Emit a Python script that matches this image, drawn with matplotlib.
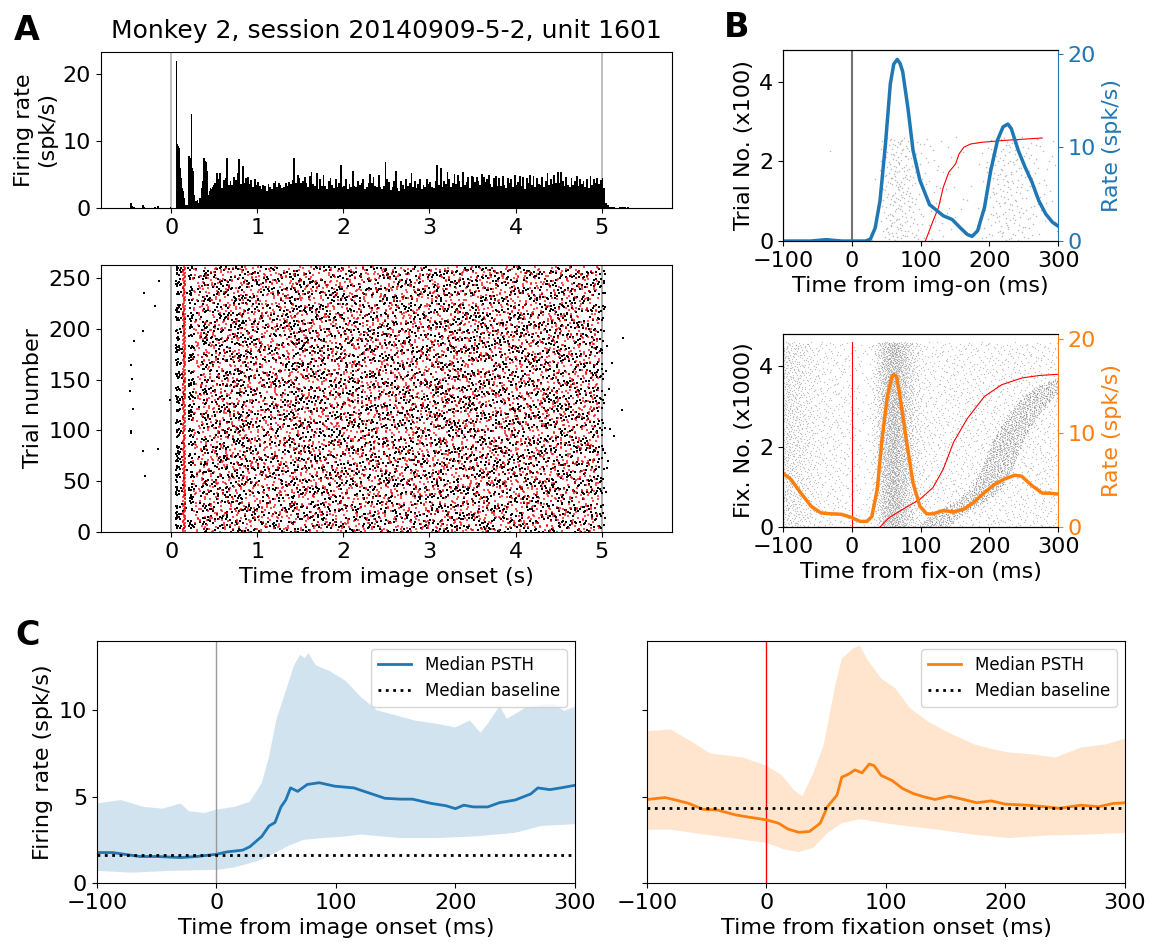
import numpy as np
import matplotlib.pyplot as plt

plt.rcParams['font.family'] = 'DejaVu Sans'
plt.rcParams['font.size'] = 16

BLUE = '#1f77b4'
ORANGE = '#ff7f0e'

# ---------------- A: PSTH (spk/s) ----------------
pre_rate = [0, 0, 0, 0, 0, 0, 0.7, 0.3, 0.2, 0, 0, 0, 0, 0.5, 0.2,
            0, 0, 0, 0, 0, 0.2, 0, 0.3, 0, 0, 0, 0, 0, 0, 0.2]          # -0.6..0 s, 20 ms
early_rate = [0, 0, 0, 0, 0, 7.5, 22, 9.5, 9.3, 9.0,
              6.0, 4.5, 3.6, 3.0, 2.5, 1.5, 0.5, 0.5, 0.5, 0.5,
              7.7, 7.8, 7.5, 14.0, 6.0, 5.5, 3.0, 2.0, 1.0, 1.0,
              1.2, 0.8, 1.5, 1.5, 2.5, 3.0, 4.0, 7.5, 7.5, 7.0,
              6.8, 5.5, 5.5, 2.0, 2.5, 3.0, 2.8, 3.2, 3.5, 3.5]             # 0..0.5 s, 10 ms
late_rate = [
    3.8, 5.2, 4.3, 5.2, 3.0, 4.2, 4.5, 7.4, 3.5, 4.0, 3.4, 4.6, 4.2, 5.2, 7.3, 3.6, 6.2, 3.8, 4.5, 4.7, 3.6, 4.2, 3.2, 4.3, 3.4,
    3.9, 3.3, 2.8, 3.5, 3.3, 2.6, 3.6, 3.1, 2.9, 3.8, 4.0, 3.2, 3.7, 3.5, 3.0, 3.2, 3.8, 3.3, 3.9, 3.6, 4.2, 7.5, 3.8, 4.9, 4.5,
    3.7, 4.1, 4.6, 3.8, 3.2, 4.8, 5.3, 3.6, 3.3, 5.2, 2.8, 4.4, 3.3, 5.0, 3.3, 2.8, 4.0, 4.5, 3.5, 3.0, 4.3, 3.2, 3.7, 6.4, 3.1,
    3.3, 4.3, 2.9, 3.6, 3.2, 5.5, 3.3, 3.1, 4.0, 3.5, 3.8, 4.4, 2.9, 3.2, 3.8, 5.1, 3.7, 4.7, 3.3, 3.2, 4.9, 3.1, 2.8, 3.3, 6.8,
    4.3, 3.9, 2.7, 3.2, 4.0, 5.5, 3.0, 2.6, 4.1, 3.5, 2.8, 4.4, 3.3, 3.7, 5.2, 3.2, 4.0, 3.0, 3.6, 4.3, 2.8, 3.5, 3.1, 4.4, 3.6,
    3.9, 3.2, 3.0, 4.1, 6.4, 3.4, 5.9, 3.1, 4.0, 3.6, 5.4, 4.3, 3.2, 3.8, 5.1, 3.6, 5.0, 4.1, 3.2, 5.3, 3.4, 3.9, 4.6, 3.0, 4.8,
    4.7, 3.9, 4.6, 4.1, 3.5, 5.1, 4.6, 3.9, 4.3, 5.0, 3.6, 3.1, 4.5, 4.8, 3.3, 4.5, 3.3, 4.8, 3.5, 3.0, 4.5, 3.8, 4.3, 3.1, 4.9,
    3.4, 3.9, 4.8, 3.3, 4.7, 2.9, 4.5, 3.8, 5.0, 3.4, 4.8, 3.2, 4.5, 3.6, 3.4, 4.7, 3.1, 4.0, 5.2, 3.4, 4.3, 3.6, 4.9, 3.8, 5.4,
    3.8, 5.3, 4.1, 3.3, 4.6, 3.5, 3.1, 4.5, 3.4, 4.1, 4.8, 3.3, 4.3, 3.6, 4.0, 3.2, 4.3, 3.0, 4.8, 3.5, 4.4, 3.7, 4.5, 3.6, 4.2]  # 0.5..5 s, 20 ms
post_rate = [4.5, 3.0, 0.8, 0.5, 0.2, 0.2, 0.1, 0.1, 0, 0, 0.1, 0.2, 0.2, 0.1, 0,
             0.1, 0, 0, 0, 0, 0, 0, 0, 0, 0, 0, 0, 0, 0, 0]              # 5..5.6 s, 20 ms
n_trials = 262
first_fix_t = 0.15          # first fixation onset (s), the red column
later_fix_per_trial = 19

# ---------------- B: single-unit curves ----------------
img_t = [-100, -60, -45, -37, -30, -15, 0, 20, 27, 34, 41, 49, 56, 61, 66, 70, 74, 82, 89, 99,
         113, 133, 146, 158, 168, 175, 183, 193, 202, 212, 220, 227, 232, 242, 252, 262, 272, 282, 292, 300]
img_rate = [0, 0, 0.1, 0.15, 0.1, 0, 0, 0, 0.2, 1.4, 4.3, 10.4, 16.8, 18.9, 19.4, 19.0, 18.1, 14.0, 9.7, 6.5,
            3.9, 2.7, 2.3, 1.4, 0.7, 0.5, 1.1, 3.6, 7.5, 10.8, 12.2, 12.5, 12.0, 9.7, 7.9, 6.3, 4.3, 2.9, 2.0, 1.6]
img_fix_t = [107, 118, 126, 133, 141, 151, 156, 163, 173, 188, 222, 277]
img_fix_n = [0, 0.5, 0.84, 1.35, 1.73, 1.94, 2.19, 2.36, 2.44, 2.48, 2.53, 2.59]

fix_t = [-100, -89, -74, -59, -45, -30, -15, 0, 12, 22, 29, 37, 44, 52, 58, 61, 65, 69, 79, 89,
         99, 109, 118, 133, 148, 163, 177, 192, 207, 222, 237, 247, 262, 277, 287, 300]
fix_rate = [5.7, 5.1, 3.6, 2.2, 1.5, 1.4, 1.35, 1.0, 0.6, 0.6, 1.1, 4.0, 9.4, 14.0, 15.9, 16.2, 16.0, 14.4, 9.4, 4.7,
            2.2, 1.4, 1.4, 1.75, 1.6, 1.9, 2.6, 3.6, 4.5, 5.1, 5.5, 5.4, 4.4, 3.6, 3.6, 3.5]
next_fix_t = [41, 54, 74, 99, 118, 133, 148, 168, 193, 218, 248, 273, 300]
next_fix_n = [0, 0.23, 0.44, 0.69, 0.98, 1.44, 2.11, 2.7, 3.25, 3.54, 3.71, 3.77, 3.8]
n_fix = 4600
fix_bg_rate = 1.5

# ---------------- C: population ----------------
c_img_med_t = [-100, -87, -64, -49, -30, -17, 0, 9, 22, 28, 38, 44, 49, 54, 58, 62, 68, 76, 86, 99,
               115, 128, 141, 154, 164, 180, 192, 200, 207, 215, 227, 237, 250, 263, 269, 279, 288, 300]
c_img_med = [1.76, 1.76, 1.53, 1.53, 1.47, 1.53, 1.66, 1.8, 1.9, 2.1, 2.7, 3.3, 3.5, 4.4, 4.8, 5.5, 5.3, 5.7, 5.8, 5.6,
             5.5, 5.2, 4.9, 4.85, 4.85, 4.6, 4.47, 4.3, 4.5, 4.4, 4.4, 4.65, 4.8, 5.15, 5.5, 5.4, 5.5, 5.65]
c_img_hi_t = [-100, -80, -61, -45, -30, -23, -10, 0, 15, 28, 38, 44, 50, 57, 65, 70, 74, 77, 83, 95,
              108, 121, 134, 150, 166, 185, 200, 212, 221, 227, 237, 243, 259, 272, 282, 291, 300]
c_img_hi = [4.6, 4.8, 4.4, 4.3, 4.6, 4.15, 4.05, 4.25, 4.4, 4.7, 5.8, 7.3, 9.4, 10.9, 12.6, 13.2, 13.0, 13.3, 12.6, 12.25,
            11.7, 10.75, 10.0, 9.7, 9.4, 9.2, 9.0, 9.4, 8.7, 9.2, 10.25, 9.5, 10.15, 10.3, 10.4, 9.95, 10.2]
c_img_lo_t = [-100, -71, -39, 0, 15, 35, 47, 60, 73, 89, 105, 121, 137, 154, 185, 218, 250, 272, 300]
c_img_lo = [0.7, 0.6, 0.7, 0.76, 0.9, 1.28, 1.66, 2.14, 2.5, 2.6, 2.67, 2.8, 2.7, 2.6, 2.6, 2.7, 2.9, 3.3, 3.4]
c_img_base = 1.6

c_fix_med_t = [-100, -85, -76, -65, -53, -41, -26, -14, 0, 10, 18, 27, 36, 45, 51, 59, 63, 69, 74, 80,
               86, 90, 96, 105, 114, 123, 132, 141, 153, 165, 176, 188, 200, 218, 233, 245, 263, 278, 290, 300]
c_fix_med = [4.83, 4.94, 4.8, 4.6, 4.26, 4.22, 3.94, 3.8, 3.65, 3.46, 3.12, 2.93, 2.98, 3.46, 4.41, 5.08, 6.12, 6.31, 6.54, 6.37,
             6.88, 6.79, 6.22, 5.93, 5.46, 5.17, 4.98, 4.83, 5.02, 4.83, 4.64, 4.75, 4.56, 4.5, 4.41, 4.32, 4.5, 4.41, 4.6, 4.64]
c_fix_hi_t = [-100, -80, -59, -47, -20, 0, 13, 23, 30, 39, 48, 57, 63, 72, 78, 84, 96, 108, 120, 135,
              150, 174, 189, 203, 221, 242, 263, 284, 300]
c_fix_hi = [8.78, 8.88, 8.02, 7.49, 7.26, 6.79, 6.22, 5.36, 5.02, 6.31, 8.02, 11.25, 12.97, 13.54, 13.76, 12.97, 11.83, 11.25, 10.11, 9.35,
            8.78, 8.02, 7.74, 7.55, 7.45, 7.26, 7.83, 8.02, 8.35]
c_fix_lo_t = [-100, -80, -50, -20, 0, 15, 27, 39, 51, 63, 78, 99, 120, 144, 174, 203, 233, 263, 300]
c_fix_lo = [3.08, 3.08, 2.79, 2.51, 2.32, 1.94, 1.79, 2.03, 2.89, 3.46, 3.69, 3.46, 3.27, 3.08, 2.79, 2.6, 2.74, 2.79, 2.89]
c_fix_base = 4.35


# single spikes can't be read off the rasters, so dots are laid out with
# deterministic van der Corput sequences to follow the densities read above
def vdc(idx, base):
    i = np.asarray(idx).copy()
    out = np.zeros(len(i))
    f = 1.0
    while i.any():
        f /= base
        out += f * (i % base)
        i = i // base
    return out


def halton(n, base, start=1, leap=409):
    return vdc(start + leap * np.arange(n), base)


def sample_steps(u, edges, rates):
    cum = np.concatenate([[0], np.cumsum(np.asarray(rates) * np.diff(edges))])
    return np.interp(u * cum[-1], cum, edges), cum[-1]


def sample_linear(u, x, d):
    x = np.asarray(x, float)
    d = np.asarray(d, float)
    cum = np.concatenate([[0], np.cumsum(0.5 * (d[1:] + d[:-1]) * np.diff(x))])
    return np.interp(u * cum[-1], cum, x), cum[-1]


fig = plt.figure(figsize=(11.57, 9.52), dpi=100)

ax_h = fig.add_axes([0.087, 0.7815, 0.494, 0.164])
ax_r = fig.add_axes([0.087, 0.4412, 0.494, 0.2805])
ax_b1 = fig.add_axes([0.6768, 0.7468, 0.2377, 0.2006])
ax_b2 = fig.add_axes([0.6768, 0.4464, 0.2377, 0.2027])
ax_c1 = fig.add_axes([0.0838, 0.0725, 0.4131, 0.2542])
ax_c2 = fig.add_axes([0.5592, 0.0725, 0.4131, 0.2542], sharey=ax_c1)

# ---- A top: histogram
edges = np.concatenate([-0.6 + 0.02 * np.arange(31),
                        0.01 * np.arange(1, 51),
                        0.5 + 0.02 * np.arange(1, len(late_rate) + 1),
                        5.0 + 0.02 * np.arange(1, len(post_rate) + 1)])
rates = np.array(pre_rate + early_rate + late_rate + post_rate, float)
ax_h.stairs(rates, edges, fill=True, color='k')
for x in (0, 5):
    ax_h.axvline(x, color='0.7', lw=1.2, zorder=0)
ax_h.set_xlim(-0.82, 5.82)
ax_h.set_ylim(0, 23.3)
ax_h.set_yticks([0, 10, 20])
ax_h.set_xticks(range(6))
ax_h.set_ylabel('Firing rate\n(spk/s)')
ax_h.set_title('Monkey 2, session 20140909-5-2, unit 1601', fontsize=18, pad=10)

# ---- A bottom: raster; trial index taken from a shuffled index so rows
# don't line up with the time sequence
per_trial = np.sum(rates * np.diff(edges))
n_sp = int(per_trial * n_trials)
k = np.arange(n_sp)
sp_t, _ = sample_steps(vdc(k + 50, 3), edges, rates)
sp_y = np.floor(vdc((k * 7919 + 13) % n_sp + 1, 2) * n_trials)
ax_r.scatter(sp_t, sp_y, s=2.4, marker='s', c='k', linewidths=0)

ff_y = np.arange(n_trials)
ff_t = first_fix_t + 0.03 * (vdc((ff_y * 97) % n_trials + 1, 5) - 0.5)
n_lf = n_trials * later_fix_per_trial
k = np.arange(n_lf)
lf_t = 0.25 + 4.72 * vdc(k + 100, 2)
lf_y = np.floor(vdc((k * 7919 + 2001) % n_lf + 1, 3) * n_trials)
ax_r.scatter(np.concatenate([ff_t, lf_t]), np.concatenate([ff_y, lf_y]),
             s=2.5, marker='s', c='red', alpha=0.7, linewidths=0)
for x in (0, 5):
    ax_r.axvline(x, color='0.6', lw=1.2, zorder=0)
ax_r.set_xlim(-0.82, 5.82)
ax_r.set_ylim(0, 263)
ax_r.set_yticks(range(0, 251, 50))
ax_r.set_xticks(range(6))
ax_r.set_ylabel('Trial number')
ax_r.set_xlabel('Time from image onset (s)')

# ---- B top
u = halton(4000, 3, 20)
bt, tot = sample_linear(u, img_t, img_rate)
n_b = int(tot / 1000 * n_trials)
bt = bt[:n_b]
by = halton(n_b, 2, 20) * n_trials / 100
ax_b1.scatter(bt, by, s=1.2, c='0.35', alpha=0.4, linewidths=0)
ax_b1.plot(img_fix_t, img_fix_n, color='red', lw=0.8)
ax_b1.axvline(0, color='0.45', lw=1.5)
ax_b1.set_xlim(-100, 300)
ax_b1.set_ylim(0, 4.8)
ax_b1.set_yticks([0, 2, 4])
ax_b1.set_xticks([-100, 0, 100, 200, 300])
ax_b1.set_ylabel('Trial No. (x100)')
ax_b1.set_xlabel('Time from img-on (ms)')
ax_b1.spines['right'].set_visible(False)
tw1 = ax_b1.twinx()
tw1.plot(img_t, img_rate, color=BLUE, lw=2.5)
tw1.set_ylim(0, 20.4)
tw1.set_yticks([0, 10, 20])
tw1.tick_params(axis='y', colors=BLUE)
tw1.spines['right'].set_color(BLUE)
tw1.set_ylabel('Rate (spk/s)', color=BLUE)

# ---- B bottom
bg_rate = np.where(np.array(fix_t) < 110, fix_rate, np.minimum(fix_rate, fix_bg_rate))
u = halton(12000, 3, 30)
ft, tot = sample_linear(u, fix_t, bg_rate)
n_f = int(tot / 1000 * n_fix)
ft = ft[:n_f]
fy = halton(n_f, 2, 30) * n_fix / 1000
diag_rate = np.clip(np.array(fix_rate) - bg_rate, 0, None)
diag_tot = np.sum(0.5 * (diag_rate[1:] + diag_rate[:-1]) * np.diff(fix_t))
n_d = int(diag_tot / 1000 * n_fix)
dy = halton(n_d, 2, 7) * next_fix_n[-1]
dt = np.interp(dy, next_fix_n, next_fix_t) + 55 + 45 * halton(n_d, 3, 7)
keep = dt <= 300
ax_b2.scatter(np.concatenate([ft, dt[keep]]), np.concatenate([fy, dy[keep]]),
              s=0.9, c='0.3', alpha=0.35, linewidths=0)
ax_b2.plot([0, 0], [0, 4.6], color='red', lw=0.8)
ax_b2.plot(next_fix_t, next_fix_n, color='red', lw=0.8)
ax_b2.set_xlim(-100, 300)
ax_b2.set_ylim(0, 4.8)
ax_b2.set_yticks([0, 2, 4])
ax_b2.set_xticks([-100, 0, 100, 200, 300])
ax_b2.set_ylabel('Fix. No. (x1000)')
ax_b2.set_xlabel('Time from fix-on (ms)')
ax_b2.spines['right'].set_visible(False)
tw2 = ax_b2.twinx()
tw2.plot(fix_t, fix_rate, color=ORANGE, lw=2.5)
tw2.set_ylim(0, 20.5)
tw2.set_yticks([0, 10, 20])
tw2.tick_params(axis='y', colors=ORANGE)
tw2.spines['right'].set_color(ORANGE)
tw2.set_ylabel('Rate (spk/s)', color=ORANGE)

# ---- C
for ax, col, mt, mv, ht, hv, lt, lv, base, vcol, xl in [
        (ax_c1, BLUE, c_img_med_t, c_img_med, c_img_hi_t, c_img_hi, c_img_lo_t, c_img_lo,
         c_img_base, '0.6', 'Time from image onset (ms)'),
        (ax_c2, ORANGE, c_fix_med_t, c_fix_med, c_fix_hi_t, c_fix_hi, c_fix_lo_t, c_fix_lo,
         c_fix_base, 'red', 'Time from fixation onset (ms)')]:
    ax.fill(np.concatenate([ht, lt[::-1]]), np.concatenate([hv, lv[::-1]]),
            color=col, alpha=0.2, lw=0)
    ax.axvline(0, color=vcol, lw=1)
    ax.plot(mt, mv, color=col, lw=2, label='Median PSTH')
    ax.axhline(base, color='k', ls=':', lw=2, label='Median baseline')
    ax.set_xlim(-100, 300)
    ax.set_xticks([-100, 0, 100, 200, 300])
    ax.set_xlabel(xl)
    ax.legend(loc='upper right', fontsize=12)
ax_c1.set_ylim(0, 14)
ax_c1.set_yticks([0, 5, 10])
ax_c1.set_ylabel('Firing rate (spk/s)')
ax_c2.tick_params(labelleft=False)

fig.text(0.012, 0.985, 'A', fontsize=24, weight='bold', va='top')
fig.text(0.626, 0.988, 'B', fontsize=24, weight='bold', va='top')
fig.text(0.013, 0.35, 'C', fontsize=24, weight='bold', va='top')

fig.savefig('out.png', dpi=100)
